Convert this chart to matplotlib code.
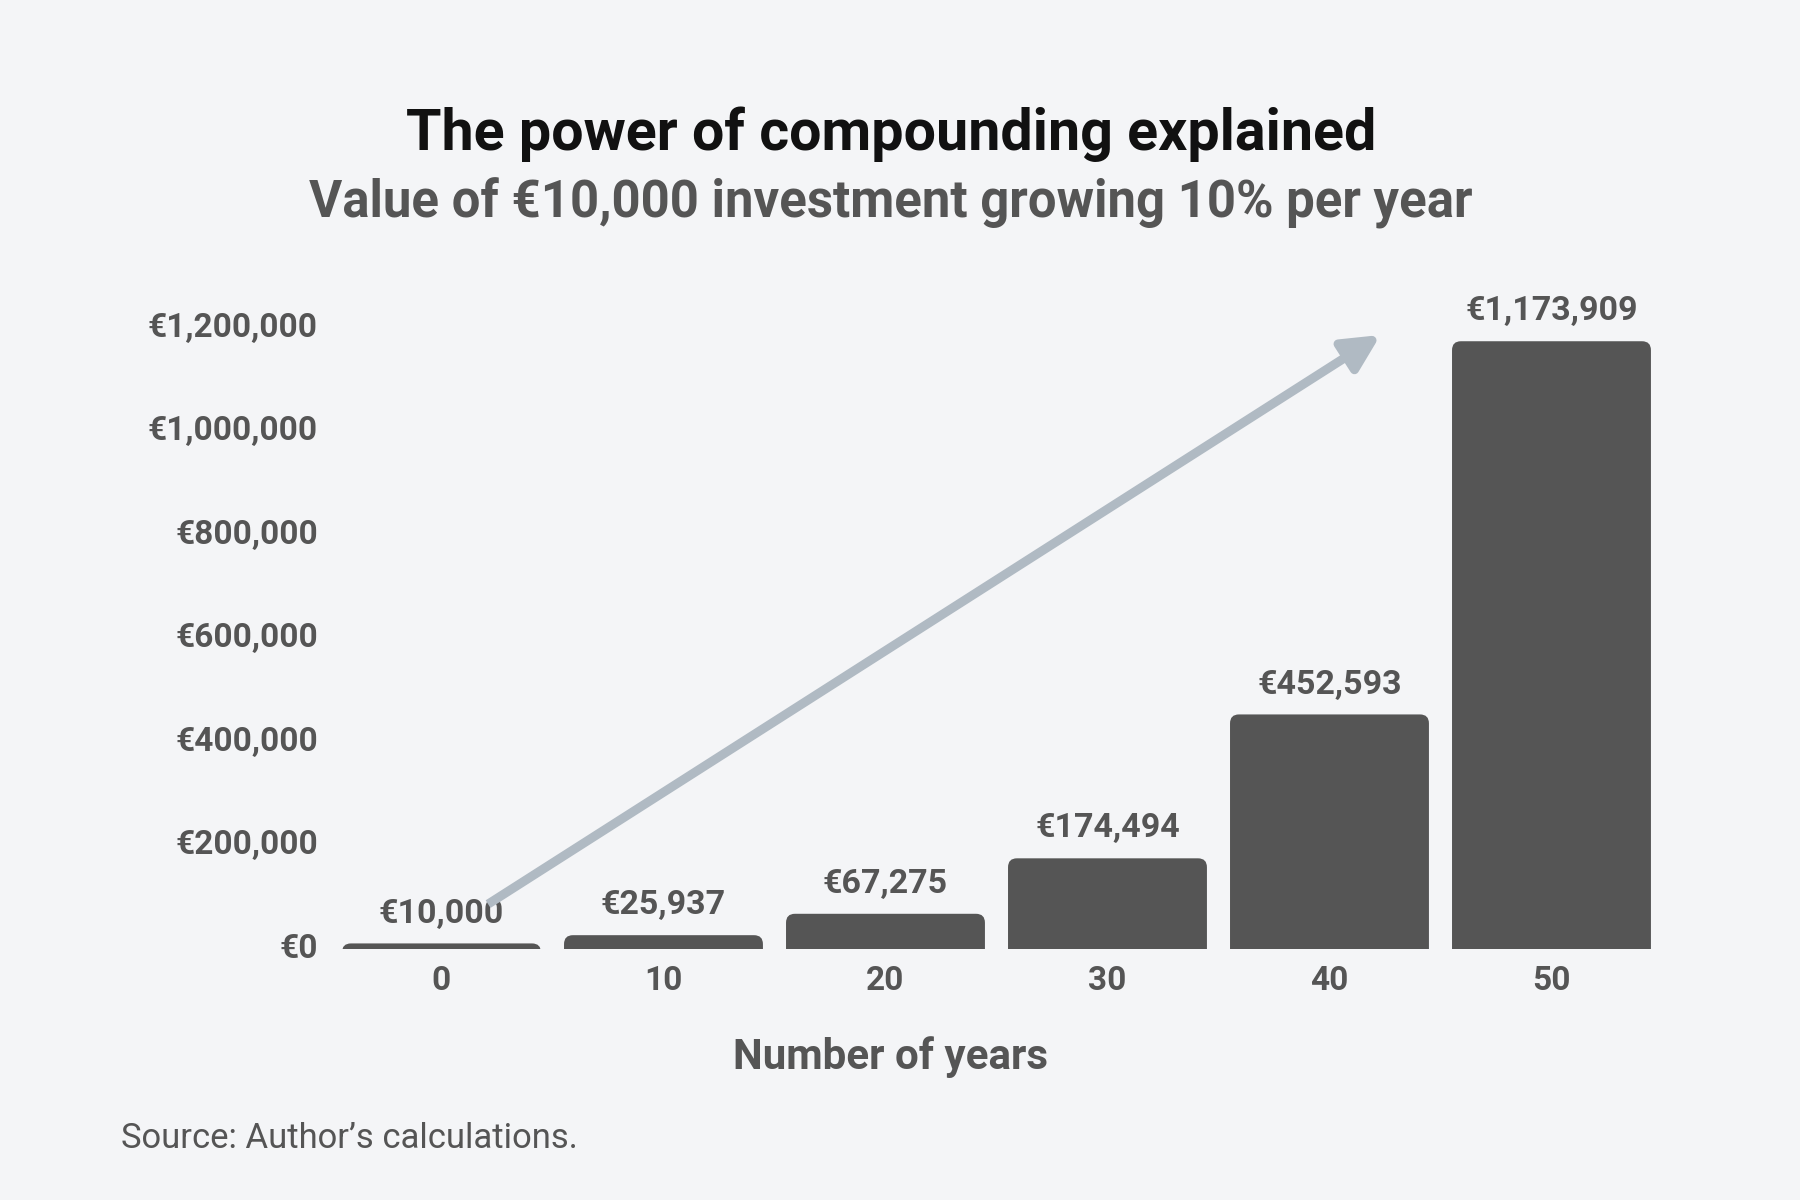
import matplotlib
matplotlib.use("Agg")
import matplotlib.pyplot as plt
import matplotlib.transforms as mtransforms
from matplotlib.patches import FancyBboxPatch

# data
years = [0, 10, 20, 30, 40, 50]
values = [10000, 25937, 67275, 174494, 452593, 1173909]
yticks = [0, 200000, 400000, 600000, 800000, 1000000, 1200000]

plt.rcParams['font.family'] = ['Roboto', 'DejaVu Sans']

bg = '#f4f5f7'
bar_col = '#555555'
txt_col = '#555555'
arrow_col = '#b0bac3'

fig = plt.figure(figsize=(18, 12), dpi=100, facecolor=bg)
ax = fig.add_axes([0.1836, 0.2095, 0.74, 0.5605])
ax.set_facecolor(bg)

ymax = 1300000
ax.set_xlim(-0.5, len(years) - 0.5)
ax.set_ylim(0, ymax)

# aspect for rounded corners (y units per x unit in pixels)
bb = ax.get_position()
px_x = bb.width * 1800 / len(years)
px_y = bb.height * 1200 / ymax
aspect = px_x / px_y
w = 0.896
r = 0.04
for i, v in enumerate(values):
    p = FancyBboxPatch((i - w / 2, -60000), w, v + 60000,
                       boxstyle="round,pad=0,rounding_size=%g" % r,
                       mutation_aspect=aspect, fc=bar_col, ec='none')
    ax.add_patch(p)
    ax.annotate("€{:,}".format(v), (i, v), xytext=(0, 15),
                textcoords='offset points', ha='center', va='baseline',
                fontsize=24.5, fontweight='bold', color=txt_col)

ax.set_xticks(range(len(years)))
ax.set_xticklabels([str(y) for y in years])
ax.set_yticks(yticks)
ax.set_yticklabels(["€{:,}".format(t) for t in yticks])
ax.tick_params(length=0, labelsize=24, labelcolor=txt_col)
ax.tick_params(axis='x', pad=11.5)
ax.tick_params(axis='y', pad=9)
for lab in ax.get_xticklabels() + ax.get_yticklabels():
    lab.set_fontweight('bold')
# y labels sit a touch higher than their gridline position in the original
shift = mtransforms.ScaledTranslation(0, 2.5 / 72, fig.dpi_scale_trans)
for lab in ax.get_yticklabels():
    lab.set_transform(lab.get_transform() + shift)
for s in ax.spines.values():
    s.set_visible(False)

# growth arrow
ax.annotate('', xy=(4.23, 1186000), xytext=(0.21, 86000),
            arrowprops=dict(arrowstyle='-|>,head_length=22,head_width=11',
                            mutation_scale=1, lw=6.5, color=arrow_col,
                            shrinkA=0, shrinkB=0, joinstyle='round',
                            capstyle='butt'))

fig.text(0.495, 1 - 150 / 1200, "The power of compounding explained",
         ha='center', va='baseline', fontsize=41.3, fontweight='bold',
         color='#111111')
fig.text(0.495, 1 - 217 / 1200, "Value of €10,000 investment growing 10% per year",
         ha='center', va='baseline', fontsize=36.6, fontweight='bold',
         color=txt_col)
fig.text(0.495, 1 - 1069 / 1200, "Number of years", ha='center',
         va='baseline', fontsize=30.3, fontweight='bold', color=txt_col)
fig.text(121 / 1800, 1 - 1148 / 1200, "Source: Author\u2019s calculations.",
         ha='left', va='baseline', fontsize=24.9, color=txt_col)

fig.savefig('out.png', dpi=100, facecolor=bg)
